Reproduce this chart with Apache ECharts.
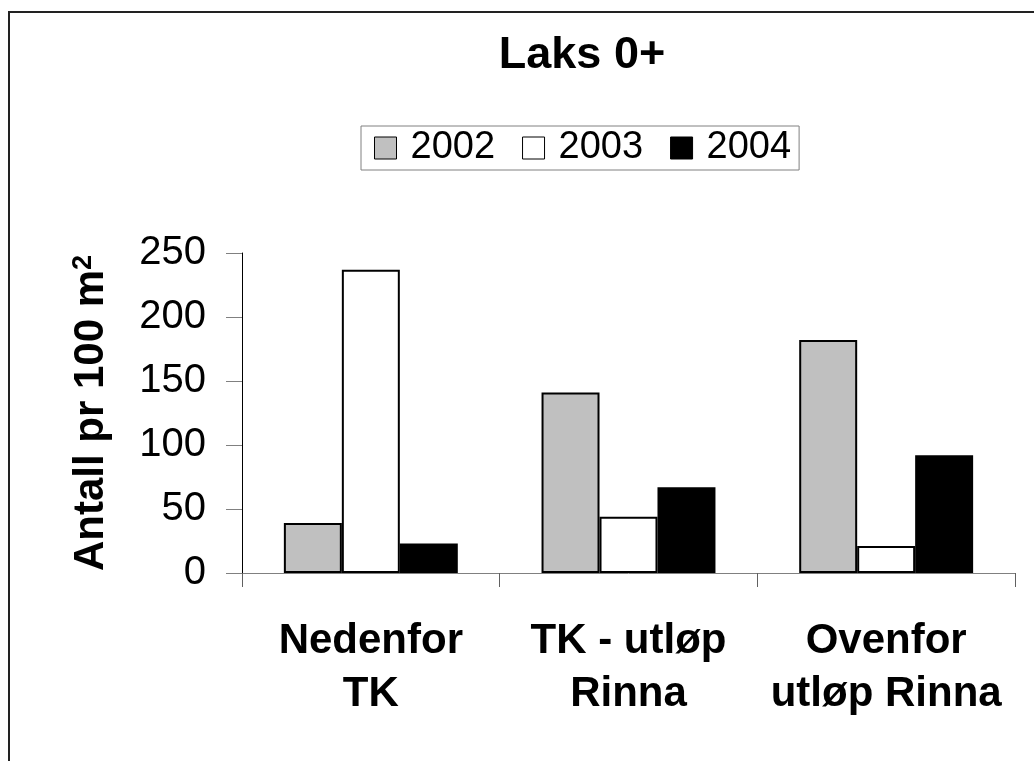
<!DOCTYPE html>
<html>
<head>
<meta charset="utf-8">
<script src="https://cdn.jsdelivr.net/npm/echarts@6/dist/echarts.min.js"></script>
<style>
  html, body { margin: 0; padding: 0; background: #fff; }
  #chart { width: 1034px; height: 761px; }
</style>
</head>
<body>
<div id="chart"></div>
<script>
// Data
const categories = ['Nedenfor\nTK', 'TK - utløp\nRinna', 'Ovenfor\nutløp Rinna'];
const years = ['2002', '2003', '2004'];
const values2002 = [39, 141, 182];
const values2003 = [237, 44, 21];
const values2004 = [23, 67, 92];
const yTicks = [0, 50, 100, 150, 200, 250];

const fillColors = ['#C0C0C0', '#FFFFFF', '#000000'];
const font = 'Liberation Sans, Arial, sans-serif';

const chart = echarts.init(document.getElementById('chart'));

const seriesData = [values2002, values2003, values2004];

chart.setOption({
    animation: false,
    backgroundColor: '#fff',
    title: {
        text: 'Laks 0+',
        left: 577,
        top: 28,
        textAlign: 'center',
        textStyle: { fontFamily: font, fontSize: 45, fontWeight: 'bold', color: '#000' }
    },
    legend: {
        data: years,
        left: 361,
        top: 126,
        orient: 'horizontal',
        icon: 'rect',
        itemWidth: 22,
        itemHeight: 22,
        itemGap: 27,
        padding: [3, 8, 3, 13],
        borderColor: '#808080',
        borderWidth: 1,
        itemStyle: { borderColor: '#000', borderWidth: 1 },
        textStyle: { fontFamily: font, fontSize: 38, color: '#000', padding: [0, 0, 0, 9] }
    },
    grid: {
        left: 242,
        right: 19,
        top: 253,
        bottom: 188
    },
    xAxis: {
        type: 'category',
        data: categories,
        axisLine: { lineStyle: { color: '#808080', width: 1 } },
        axisTick: { show: true, length: 14, lineStyle: { color: '#606060' } },
        axisLabel: {
            interval: 0,
            margin: 42,
            fontFamily: font,
            fontSize: 42,
            fontWeight: 'bold',
            color: '#000',
            lineHeight: 53
        }
    },
    yAxis: {
        type: 'value',
        min: yTicks[0],
        max: yTicks[yTicks.length - 1],
        interval: 50,
        name: '{a|Antall pr 100 m}{s|2}',
        nameLocation: 'middle',
        nameGap: 130,
        nameTextStyle: {
            fontFamily: font, fontSize: 42, fontWeight: 'bold', color: '#000',
            rich: {
                a: { fontFamily: font, fontSize: 42, fontWeight: 'bold', color: '#000' },
                s: { fontFamily: font, fontSize: 27, fontWeight: 'bold', color: '#000', verticalAlign: 'top', padding: [0, 0, 14, 0] }
            }
        },
        axisLine: { show: true, lineStyle: { color: '#000', width: 1 } },
        axisTick: { show: true, length: 16, lineStyle: { color: '#808080' } },
        splitLine: { show: false },
        axisLabel: { margin: 36, fontFamily: font, fontSize: 40, color: '#000' }
    },
    series: years.map((y, i) => ({
        name: y,
        type: 'bar',
        data: seriesData[i],
        barGap: '0%',
        barCategoryGap: '32.5%',
        itemStyle: { color: fillColors[i], borderColor: '#000', borderWidth: 2 }
    })),
    graphic: [{
        type: 'rect',
        shape: { x: 9, y: 12, width: 1200, height: 900 },
        style: { fill: 'none', stroke: '#222', lineWidth: 2 },
        silent: true
    }]
});
</script>
</body>
</html>
